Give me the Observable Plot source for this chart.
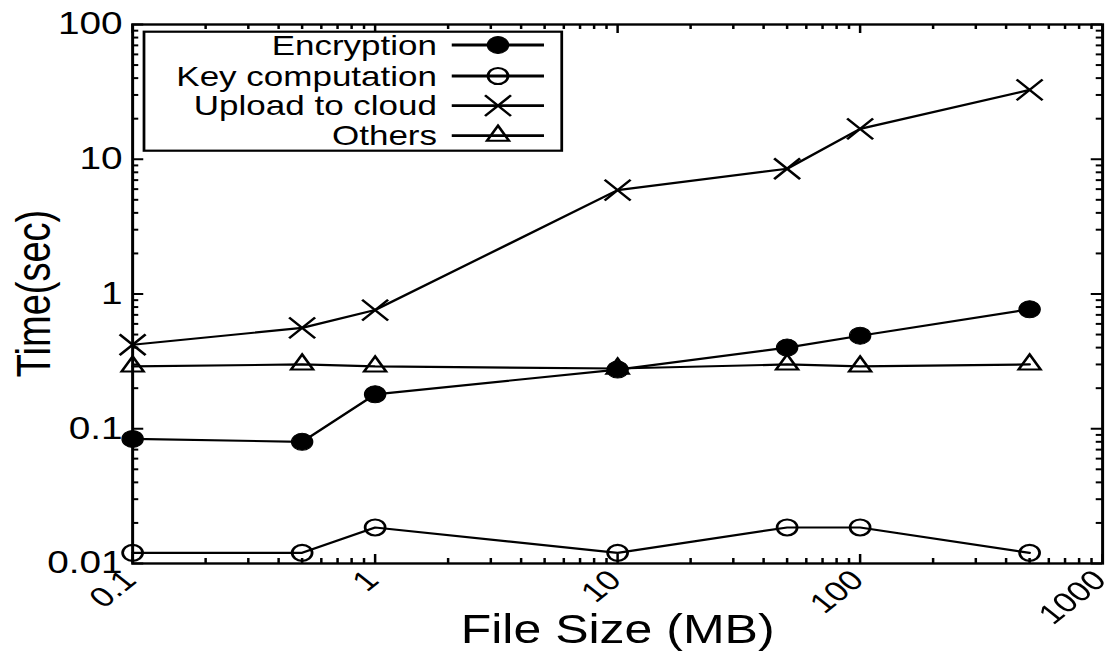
<!DOCTYPE html>
<html><head><meta charset="utf-8">
<script src="https://cdn.jsdelivr.net/npm/d3@7"></script>
<script src="https://cdn.jsdelivr.net/npm/@observablehq/plot@0.6"></script>
<style>
html,body{margin:0;padding:0;background:#fff;overflow:hidden}
#wrap{width:891.2px;height:653px;transform:scaleX(1.25);transform-origin:0 0;}
</style></head><body><div id="wrap"></div>
<script>
// ---- data ----
const fileSizes = [0.1, 0.5, 1, 10, 50, 100, 500];
const encryption = [0.084, 0.080, 0.18, 0.275, 0.40, 0.49, 0.77];
const keyComputation = [0.012, 0.012, 0.0185, 0.012, 0.0185, 0.0185, 0.012];
const uploadToCloud = [0.42, 0.56, 0.76, 5.9, 8.5, 16.8, 32.7];
const others = [0.29, 0.30, 0.29, 0.28, 0.30, 0.29, 0.30];
const seriesNames = ["Encryption", "Key computation", "Upload to cloud", "Others"];
const xMajorTicks = [0.1, 1, 10, 100, 1000];
const xTickLabels = ["0.1", "1", "10", "100", "1000"];
const yMajorTicks = [0.01, 0.1, 1, 10, 100];
const yTickLabels = ["0.01", "0.1", "1", "10", "100"];
const minorMultipliers = [2, 3, 4, 5, 6, 7, 8, 9];
const xLabel = "File Size (MB)";
const yLabel = "Time(sec)";

// ---- build table ----
const seriesValues = [encryption, keyComputation, uploadToCloud, others];
const rows = [];
seriesNames.forEach((s, k) => fileSizes.forEach((x, i) => rows.push({series: s, x, y: seriesValues[k][i]})));
const of = s => rows.filter(d => d.series === s);
const xMinor = xMajorTicks.slice(0, -1).flatMap(d => minorMultipliers.map(m => d * m));
const yMinor = yMajorTicks.slice(0, -1).flatMap(d => minorMultipliers.map(m => d * m));

// ---- layout ----
const W = 891.2, H = 653, mL = 105.6, mR = 9.6, mT = 24, mB = 90;
const fw = W - mL - mR, fh = H - mT - mB;
const majLen = 9, minLen = 5, tickW = 2;
const font = "'Liberation Sans', Arial, Helvetica, sans-serif";

const styles = {
  "Encryption": {symbol: "circle", r: 8.5, fill: "#000", stroke: "#000", strokeWidth: 1},
  "Key computation": {symbol: "circle", r: 8, fill: "none", stroke: "#000", strokeWidth: 2.2},
  "Upload to cloud": {symbol: "times", r: 9.5, fill: "none", stroke: "#000", strokeWidth: 2.2},
  "Others": {symbol: "triangle", r: 6.5, fill: "none", stroke: "#000", strokeWidth: 2.2}
};

const marks = [
  Plot.tickX(xMajorTicks, {x: d => d, insetTop: fh - majLen, strokeWidth: tickW}),
  Plot.tickX(xMinor, {x: d => d, insetTop: fh - minLen, strokeWidth: tickW}),
  Plot.tickX(xMajorTicks, {x: d => d, insetBottom: fh - majLen, strokeWidth: tickW}),
  Plot.tickX(xMinor, {x: d => d, insetBottom: fh - minLen, strokeWidth: tickW}),
  Plot.tickY(yMajorTicks, {y: d => d, insetRight: fw - majLen, strokeWidth: tickW}),
  Plot.tickY(yMinor, {y: d => d, insetRight: fw - minLen, strokeWidth: tickW}),
  Plot.tickY(yMajorTicks, {y: d => d, insetLeft: fw - majLen, strokeWidth: tickW}),
  Plot.tickY(yMinor, {y: d => d, insetLeft: fw - minLen, strokeWidth: tickW}),
  Plot.frame({stroke: "#000", strokeWidth: 2.4}),
  Plot.axisX(xMajorTicks, {anchor: "bottom", tickSize: 0, tickPadding: 12, tickRotate: -45, fontSize: 28, dx: -2,
    tickFormat: d => xTickLabels[xMajorTicks.indexOf(d)], label: null}),
  Plot.axisY(yMajorTicks, {anchor: "left", tickSize: 0, tickPadding: 8, fontSize: 31,
    tickFormat: d => yTickLabels[yMajorTicks.indexOf(d)], label: null}),
  Plot.text([xLabel], {frameAnchor: "bottom", dy: 80, fontSize: 40, lineAnchor: "bottom", text: d => d})
];
for (const s of seriesNames) {
  marks.push(Plot.line(of(s), {x: "x", y: "y", stroke: "#000", strokeWidth: 2.2}));
}
for (const s of seriesNames) {
  const st = styles[s];
  marks.push(Plot.dot(of(s), {x: "x", y: "y", symbol: () => st.symbol, r: st.r, fill: st.fill, stroke: st.stroke, strokeWidth: st.strokeWidth}));
}

const plot = Plot.plot({
  width: W, height: H, marginLeft: mL, marginRight: mR, marginTop: mT, marginBottom: mB,
  style: {fontFamily: font, color: "#000", background: "#fff", overflow: "visible"},
  x: {type: "log", domain: [0.1, 1000]},
  y: {type: "log", domain: [0.01, 100]},
  symbol: {type: "identity"},
  marks
});

const svg = d3.select(plot);
// ---- y axis title ----
svg.append("text").attr("transform", `translate(40,${mT + fh / 2}) rotate(-90)`)
  .attr("text-anchor", "middle").attr("font-family", font).attr("font-size", 38).attr("fill", "#000").text(yLabel);

// ---- legend ----
const lg = svg.append("g").attr("font-family", font);
const box = {x: 115.2, y: 31.7, w: 334.2, h: 119};
lg.append("rect").attr("x", box.x).attr("y", box.y).attr("width", box.w).attr("height", box.h)
  .attr("fill", "#fff").attr("stroke", "#000").attr("stroke-width", 2.2);
const rowY = [45, 76, 105.7, 135.7];
const textEnd = 349.6, lineX1 = 361.4, lineX2 = 435.2, symX = 398.4;
const symTypes = {circle: d3.symbolCircle, times: d3.symbolTimes, triangle: d3.symbolTriangle};
seriesNames.forEach((s, i) => {
  const st = styles[s];
  lg.append("text").attr("x", textEnd).attr("y", rowY[i]).attr("dy", "0.35em").attr("text-anchor", "end")
    .attr("font-size", 28).attr("fill", "#000").text(s);
  lg.append("line").attr("x1", lineX1).attr("x2", lineX2).attr("y1", rowY[i]).attr("y2", rowY[i])
    .attr("stroke", "#000").attr("stroke-width", 2.8);
  lg.append("path").attr("transform", `translate(${symX},${rowY[i]})`)
    .attr("d", d3.symbol(symTypes[st.symbol], Math.PI * st.r * st.r)())
    .attr("fill", st.fill).attr("stroke", st.stroke).attr("stroke-width", st.strokeWidth);
});

document.getElementById("wrap").appendChild(plot);
</script>
</body></html>
